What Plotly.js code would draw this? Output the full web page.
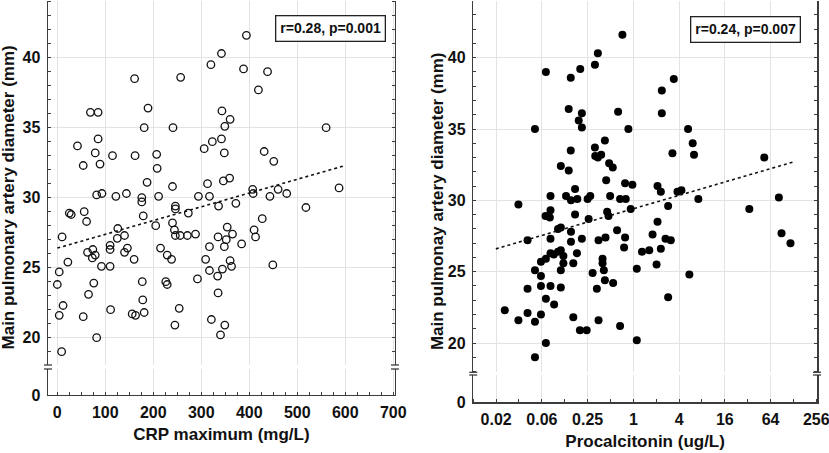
<!DOCTYPE html>
<html>
<head>
<meta charset="utf-8">
<script src="https://cdn.plot.ly/plotly-3.0.1.min.js"></script>
<style>
  html, body { margin: 0; padding: 0; background: #fff; }
  #chart { width: 829px; height: 453px; }
</style>
</head>
<body>
<div id="chart"></div>
<script>
// CRP maximum (mg/L) vs main pulmonary artery diameter (mm)
const crpX = [
  394, 342, 320, 388, 438, 161, 257, 419, 69, 85, 189, 343, 360, 181, 241, 349, 560,
  85, 342, 323, 42, 306, 79, 431, 115, 162, 207, 348, 54, 89, 451, 208, 187, 346, 359,
  240, 313, 587, 82, 93, 122, 144, 176, 176, 211, 294, 317, 407, 408, 443, 460, 478,
  246, 246, 336, 372, 518, 25, 29, 56, 179, 273, 427, 61, 240, 126, 205, 354, 410, 244,
  10, 125, 140, 246, 256, 271, 288, 335, 352, 365, 413, 384, 110, 110, 63, 74, 73, 79,
  22, 4, 0, 92, 110, 146, 140, 160, 215, 229, 238, 317, 348, 309, 360, 363, 317, 344,
  449, 76, 177, 226, 229, 292, 334, 65, 335, 12, 178, 4, 54, 111, 156, 163, 181, 254,
  321, 245, 349, 340, 82, 9
];
const crpY = [
  41.6, 40.3, 39.5, 39.2, 39.0, 38.5, 38.6, 37.7, 36.1, 36.1, 36.4, 36.2, 35.6, 35.0, 35.0, 35.1, 35.0,
  34.2, 34.2, 34.0, 33.7, 33.5, 33.2, 33.3, 33.0, 33.0, 33.1, 33.2, 32.3, 32.4, 32.6, 32.1, 31.1, 31.2, 31.4,
  30.8, 31.0, 30.7, 30.2, 30.3, 30.1, 30.3, 30.0, 29.7, 30.1, 30.1, 30.1, 30.6, 30.3, 30.1, 30.6, 30.3,
  29.4, 29.2, 29.4, 29.6, 29.3, 28.9, 28.8, 29.0, 28.7, 28.9, 28.5, 28.3, 28.2, 27.8, 28.0, 27.9, 27.7, 27.7,
  27.2, 27.1, 27.3, 27.3, 27.3, 27.3, 27.4, 27.2, 27.0, 27.4, 27.2, 26.7, 26.6, 26.3, 26.1, 26.3, 25.7, 25.9,
  25.4, 24.7, 23.8, 25.1, 25.1, 26.4, 26.1, 25.6, 26.4, 25.9, 25.6, 26.5, 26.5, 25.6, 25.5, 25.1, 24.8, 24.9,
  25.2, 23.9, 24.0, 24.0, 23.8, 24.2, 24.4, 23.1, 23.2, 22.3, 22.7, 21.6, 21.5, 22.0, 21.7, 21.6, 21.8, 22.1,
  21.3, 20.9, 20.9, 20.2, 20.0, 19.0
];
const crpTrendX = [0, 600];
const crpTrendY = [26.4, 32.3];
const crpTicks = [0, 100, 200, 300, 400, 500, 600, 700];

// Procalcitonin (ug/L) vs main pulmonary artery diameter (mm)
const pctX = [
  0.718, 0.341, 0.312, 0.0706, 0.200, 0.150, 3.41, 2.37, 0.141, 0.210, 0.630, 2.37, 0.191,
  0.0507, 0.210, 0.860, 5.25, 0.422, 6.04, 0.150, 0.312, 0.315, 0.341, 0.377, 3.27, 6.29,
  52.9, 0.111, 0.141, 0.480, 0.536, 0.439, 0.778, 0.971, 0.171, 2.08, 2.30, 0.0307, 0.0812,
  0.130, 0.151, 0.183, 0.25, 0.271, 0.495, 0.669, 0.794, 3.81, 4.29, 7.17, 82.3, 0.0699,
  0.0812, 0.0796, 0.171, 0.452, 0.471, 0.923, 2.87, 33.6, 0.258, 2.08, 0.102, 0.111, 0.611,
  0.0405, 0.0812, 0.151, 0.151, 0.210, 0.348, 0.430, 0.778, 0.755, 1.79, 2.65, 3.11, 89.2,
  117, 1.30, 1.62, 2.30, 0.0812, 0.0897, 0.102, 0.111, 0.120, 0.181, 0.0608, 0.0706, 0.120,
  0.162, 0.393, 0.393, 2.02, 0.0507, 0.111, 0.409, 0.291, 1.11, 0.0608, 0.422, 0.542, 5.46,
  0.0405, 0.0608, 0.0812, 0.111, 0.331, 0.0706, 0.0906, 2.87, 0.0203, 0.0405, 0.0608, 0.162,
  0.0307, 0.0507, 0.348, 0.669, 0.198, 0.243, 1.11, 0.0706, 0.0507
];
const pctY = [
  41.6, 40.3, 39.5, 39.0, 39.2, 38.6, 38.5, 37.7, 36.4, 36.1, 36.2, 36.1, 35.6,
  35.0, 35.1, 35.0, 35.0, 34.2, 34.0, 33.5, 33.7, 33.1, 33.0, 33.2, 33.3, 33.2,
  33.0, 32.4, 32.1, 32.6, 32.3, 31.4, 31.2, 31.1, 30.8, 31.0, 30.6, 29.7, 30.3,
  30.3, 30.0, 30.1, 30.1, 30.3, 30.3, 30.1, 30.1, 30.6, 30.7, 30.1, 30.2, 28.9,
  29.3, 28.8, 29.0, 29.2, 28.9, 29.4, 29.6, 29.4, 28.7, 28.5, 28.0, 28.1, 27.9,
  27.2, 27.3, 27.8, 27.1, 27.3, 27.2, 27.4, 27.4, 26.7, 27.6, 27.3, 27.2, 27.7,
  27.0, 26.4, 26.5, 26.6, 26.3, 26.2, 26.4, 26.5, 26.1, 26.3, 25.7, 25.9, 25.6,
  25.6, 25.9, 25.6, 25.5, 25.1, 25.1, 25.1, 24.9, 25.2, 24.7, 24.4, 24.2, 24.8,
  23.8, 24.0, 24.0, 23.9, 23.8, 23.1, 22.7, 23.2, 22.3, 22.1, 22.0, 21.8,
  21.6, 21.5, 21.6, 21.2, 20.9, 20.9, 20.2, 20.0, 19.0
];
const pctTrendX = [0.0155, 130];
const pctTrendY = [26.6, 32.7];
const pctTickVals = [0.015625, 0.0625, 0.25, 1, 4, 16, 64, 256];
const pctTickText = ['0.02', '0.06', '0.25', '1', '4', '16', '64', '256'];

const diamTicks = [20, 25, 30, 35, 40];
const statsCrp = 'r=0.28, p=0.001';
const statsPct = 'r=0.24, p=0.007';

const FONT = 'Liberation Sans, Arial, sans-serif';
const FRAME = '#3c3c3c';
const GRID = '#e3e3e3';

const tickFont = { family: FONT, size: 16, color: '#111', weight: 'bold' };
const titleFont = { family: FONT, size: 17, color: '#111', weight: 'bold' };

const traces = [
  {
    x: crpX, y: crpY, xaxis: 'x', yaxis: 'y', type: 'scatter', mode: 'markers',
    marker: { symbol: 'circle-open', size: 7.5, color: '#111', line: { width: 1.3, color: '#111' } },
    hoverinfo: 'x+y'
  },
  {
    x: crpTrendX, y: crpTrendY, xaxis: 'x', yaxis: 'y', type: 'scatter', mode: 'lines',
    line: { color: '#111', width: 1.6, dash: '3px,3px' }, hoverinfo: 'skip'
  },
  {
    x: pctX, y: pctY, xaxis: 'x2', yaxis: 'y2', type: 'scatter', mode: 'markers',
    marker: { symbol: 'circle', size: 8, color: '#000' },
    hoverinfo: 'x+y'
  },
  {
    x: pctTrendX, y: pctTrendY, xaxis: 'x2', yaxis: 'y2', type: 'scatter', mode: 'lines',
    line: { color: '#111', width: 1.6, dash: '3px,3px' }, hoverinfo: 'skip'
  },
  // empty traces so the short "0" segments below the axis break get drawn
  { x: [], y: [], xaxis: 'x', yaxis: 'y3', type: 'scatter', mode: 'markers', hoverinfo: 'skip' },
  { x: [], y: [], xaxis: 'x2', yaxis: 'y4', type: 'scatter', mode: 'markers', hoverinfo: 'skip' }
];

const frameLine = { showline: true, linecolor: FRAME, linewidth: 1.5, zeroline: false };
const minorIn = (dtick, tick0) => ({ ticks: 'inside', ticklen: 3, tickwidth: 1, tickcolor: FRAME, dtick: dtick, tick0: tick0 || 0, showgrid: false });

const crpRange = [-19.4, 703.5];
const pctRange = [Math.log10(2) * -7, Math.log10(2) * 8.03];

// little "=" marks where the y axis is broken
function breakMarks(xref, yMain, yLow) {
  const marks = [];
  [0, 1].forEach(xa => {
    [[yMain, 0], [yLow, 1]].forEach(([yr, ya]) => {
      marks.push({
        type: 'line', xref: xref + ' domain', yref: yr + ' domain',
        xsizemode: 'pixel', xanchor: xa, x0: -4, x1: 4,
        y0: ya, y1: ya, line: { color: FRAME, width: 1.3 }
      });
    });
  });
  return marks;
}

const layout = {
  width: 829, height: 453,
  margin: { l: 48, r: 12, t: 1, b: 51 },
  paper_bgcolor: '#fff', plot_bgcolor: '#fff',
  showlegend: false,
  font: { family: FONT },

  // left panel
  xaxis: Object.assign({
    domain: [0, 0.4512], range: crpRange, anchor: 'y3',
    tickmode: 'array', tickvals: crpTicks, ticks: '',
    showgrid: true, gridcolor: GRID, gridwidth: 1,
    minor: minorIn(25), tickfont: tickFont, ticklabelstandoff: 2,
    title: { text: 'CRP maximum (mg/L)', font: titleFont, standoff: 8 }
  }, frameLine),
  xaxis3: Object.assign({
    overlaying: 'x', anchor: 'y', side: 'top', range: crpRange,
    showticklabels: false, ticks: '', showgrid: false, minor: minorIn(25)
  }, frameLine),
  yaxis: Object.assign({
    domain: [0.0923, 1], range: [18.05, 44.05], anchor: 'x',
    tickmode: 'array', tickvals: diamTicks, ticks: '', mirror: 'ticks',
    showgrid: true, gridcolor: GRID, gridwidth: 1,
    minor: minorIn(1), tickfont: tickFont, ticklabelstandoff: 3
  }, frameLine),
  yaxis3: Object.assign({
    domain: [0.01746, 0.0823], range: [0, 1.86], anchor: 'x',
    tickmode: 'array', tickvals: [0], ticks: '', mirror: true,
    showgrid: false, tickfont: tickFont, ticklabelstandoff: 3
  }, frameLine),

  // right panel
  xaxis2: Object.assign({
    domain: [0.553, 1], type: 'log', range: pctRange, anchor: 'y4',
    tickmode: 'array', tickvals: pctTickVals, ticktext: pctTickText, ticks: '',
    showgrid: true, gridcolor: GRID, gridwidth: 1, ticklabeloverflow: 'allow',
    minor: minorIn(Math.log10(2)), tickfont: tickFont, ticklabelstandoff: 2,
    title: { text: 'Procalcitonin (ug/L)', font: titleFont, standoff: 8 }
  }, frameLine),
  xaxis4: Object.assign({
    overlaying: 'x2', anchor: 'y2', side: 'top', type: 'log', range: pctRange,
    showticklabels: false, ticks: '', showgrid: false, minor: minorIn(Math.log10(2))
  }, frameLine),
  yaxis2: Object.assign({
    domain: [0.0741, 1], range: [17.95, 43.97], anchor: 'x2',
    tickmode: 'array', tickvals: diamTicks, ticks: '', mirror: 'ticks',
    showgrid: true, gridcolor: GRID, gridwidth: 1,
    minor: minorIn(1), tickfont: tickFont, ticklabelstandoff: 3
  }, frameLine),
  yaxis4: Object.assign({
    domain: [0, 0.0673], range: [0, 1.91], anchor: 'x2',
    tickmode: 'array', tickvals: [0], ticks: '', mirror: true,
    showgrid: false, tickfont: tickFont, ticklabelstandoff: 3
  }, frameLine),

  shapes: breakMarks('x', 'y', 'y3').concat(breakMarks('x2', 'y2', 'y4')),

  annotations: [
    {
      text: statsCrp, xref: 'x domain', yref: 'y domain', x: 0.973, y: 0.9615,
      xanchor: 'right', yanchor: 'top', showarrow: false,
      font: { family: FONT, size: 14, color: '#111', weight: 'bold' },
      bordercolor: '#222', borderwidth: 1.3, borderpad: 4, bgcolor: '#fff'
    },
    {
      text: statsPct, xref: 'x2 domain', yref: 'y2 domain', x: 0.9547, y: 0.9596,
      xanchor: 'right', yanchor: 'top', showarrow: false,
      font: { family: FONT, size: 14, color: '#111', weight: 'bold' },
      bordercolor: '#222', borderwidth: 1.3, borderpad: 4, bgcolor: '#fff'
    },
    {
      text: 'Main pulmonary artery diameter (mm)', xref: 'paper', yref: 'paper',
      x: -0.0515, y: 0.511, xanchor: 'center', yanchor: 'middle', textangle: -90,
      showarrow: false, font: titleFont
    },
    {
      text: 'Main pulmonay artery diameter (mm)', xref: 'paper', yref: 'paper',
      x: 0.5066, y: 0.5, xanchor: 'center', yanchor: 'middle', textangle: -90,
      showarrow: false, font: titleFont
    }
  ]
};

Plotly.newPlot('chart', traces, layout, { displayModeBar: false, staticPlot: true });
</script>
</body>
</html>
